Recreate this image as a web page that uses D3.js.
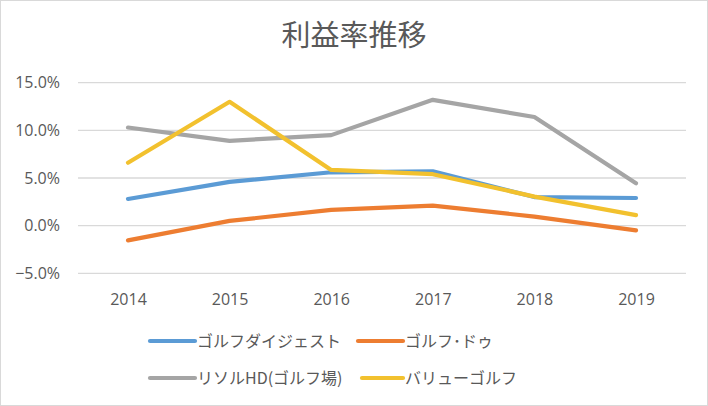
<!DOCTYPE html>
<html><head><meta charset="utf-8">
<script src="https://cdn.jsdelivr.net/npm/d3@7"></script>
<style>
html,body{margin:0;padding:0;background:#fff;}
svg{display:block;}
</style>
</head><body>
<svg id="c" width="708" height="406"></svg>
<script>
const title = "利益率推移";
const years = ["2014","2015","2016","2017","2018","2019"];
const yTicks = [-5, 0, 5, 10, 15];
const seriesNames = ["ゴルフダイジェスト","ゴルフ･ドゥ","リソルHD(ゴルフ場)","バリューゴルフ"];
const seriesColors = ["#5B9BD5","#ED7D31","#A5A5A5","#F2C12E"];
const golfDigest = [2.8, 4.6, 5.6, 5.7, 3.0, 2.9];
const golfDo = [-1.55, 0.5, 1.65, 2.1, 0.95, -0.5];
const resol = [10.3, 8.9, 9.5, 13.2, 11.4, 4.45];
const valueGolf = [6.6, 13.0, 5.85, 5.4, 3.05, 1.1];
const seriesValues = [golfDigest, golfDo, resol, valueGolf];

const svg = d3.select("#c");
const W = 708, H = 406;
const font = "'Noto Sans CJK JP','Noto Sans',sans-serif";
const numFont = "'Open Sans','Noto Sans',sans-serif";
const textColor = "#595959";

svg.append("rect").attr("x",0.5).attr("y",0.5).attr("width",W-1).attr("height",H-1)
  .attr("fill","#fff").attr("stroke","#D9D9D9");

svg.append("text").attr("x",354).attr("y",46).attr("text-anchor","middle")
  .attr("font-family",font).attr("font-size",29).attr("fill",textColor).text(title);

const x = d3.scalePoint().domain(years).range([128, 636]);
const y = d3.scaleLinear().domain([-5, 15]).range([273.3, 82.7]);

// gridlines
svg.append("g").selectAll("line").data(yTicks).join("line")
  .attr("x1",78).attr("x2",686)
  .attr("y1",d=>y(d)).attr("y2",d=>y(d))
  .attr("stroke","#D9D9D9").attr("stroke-width",1.3);

// y axis
const yAxis = d3.axisLeft(y).tickValues(yTicks).tickFormat(d=>d3.format(".1f")(d)+"%").tickSize(0).tickPadding(0);
const gy = svg.append("g").attr("transform","translate(60,0)").call(yAxis);
gy.select(".domain").remove();
gy.selectAll("text").attr("font-family",numFont).attr("font-size",16).attr("fill",textColor);

// x axis
const xAxis = d3.axisBottom(x).tickSize(0).tickPadding(0);
const gx = svg.append("g").attr("transform","translate(0,305)").call(xAxis);
gx.select(".domain").remove();
gx.selectAll("text").attr("font-family",numFont).attr("font-size",16).attr("fill",textColor).attr("dy","0");

// lines
const line = d3.line().x((d,i)=>x(years[i])).y(d=>y(d));
svg.append("g").selectAll("path").data(seriesValues).join("path")
  .attr("d",d=>line(d)).attr("fill","none")
  .attr("stroke",(d,i)=>seriesColors[i]).attr("stroke-width",4.2)
  .attr("stroke-linecap","round").attr("stroke-linejoin","round");

// legend
const legendPos = [[150,341],[358,341],[150,378],[362,378]];
const lg = svg.append("g").selectAll("g").data(seriesNames).join("g")
  .attr("transform",(d,i)=>`translate(${legendPos[i][0]},${legendPos[i][1]})`);
lg.append("line").attr("x1",0).attr("x2",(d,i)=>i===3?41:45).attr("y1",0).attr("y2",0)
  .attr("stroke",(d,i)=>seriesColors[i]).attr("stroke-width",4.2).attr("stroke-linecap","round");
lg.append("text").attr("x",(d,i)=>i===3?43:47).attr("y",0).attr("dy","0.36em")
  .attr("font-family",font).attr("font-size",16).attr("fill",textColor).text(d=>d);
</script>
</body></html>
